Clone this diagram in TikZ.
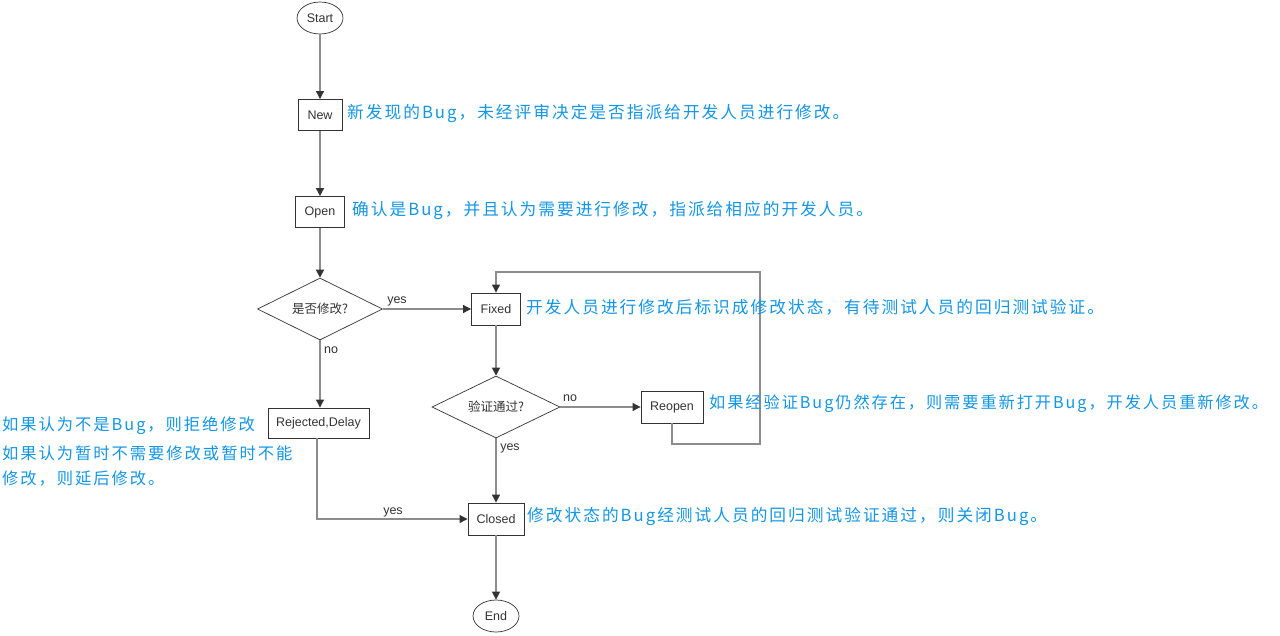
\documentclass[tikz,border=0pt]{standalone}
\usepackage{fontspec}
\setmainfont{Liberation Sans}
\newfontfamily\cjkfont{Noto Sans CJK SC}
\newfontfamily\annfont[LetterSpace=12]{Noto Sans CJK SC}
\usetikzlibrary{shapes.geometric,arrows.meta}
\definecolor{boxc}{HTML}{333333}
\definecolor{linec}{HTML}{8C8C8C}
\definecolor{arrc}{HTML}{333333}
\definecolor{annc}{RGB}{20,150,230}
\tikzset{
  box/.style={draw=boxc, line width=0.9pt, fill=white, inner sep=0pt, minimum height=31pt, text=boxc, font=\fontsize{12.5}{14}\selectfont},
  term/.style={ellipse, draw=boxc, line width=0.7pt, fill=white, inner sep=0pt, minimum width=46pt, minimum height=32pt, text=boxc, font=\fontsize{12.5}{14}\selectfont},
  dec/.style={diamond, aspect=2, draw=boxc, line width=0.7pt, fill=white, inner sep=0pt, minimum width=125pt, minimum height=62pt, text=boxc, font=\cjkfont\fontsize{12.5}{14}\selectfont},
  conn/.style={draw=linec, line width=1.1pt, -{Triangle[length=8pt,width=8pt,color=arrc]}},
  lbl/.style={text=boxc, inner sep=0pt, font=\fontsize{12.5}{14}\selectfont},
  ann/.style={text=annc, anchor=west, inner sep=0pt, font=\annfont\fontsize{16.7}{20}\selectfont},
}
\begin{document}
\begin{tikzpicture}[x=1pt,y=-1pt]
\useasboundingbox (0,0) rectangle (1280,635);
\fill[white] (0,0) rectangle (1280,635);

% nodes
\node[term] (start) at (320,18) {Start};
\node[box, minimum width=44pt] (new) at (320,115) {New};
\node[box, minimum width=49pt] (open) at (320,212) {Open};
\node[dec] (d1) at (320,309) {是否修改?};
\node[box, minimum width=49pt, minimum height=32pt] (fixed) at (496,309) {Fixed};
\node[dec, minimum width=128pt] (d2) at (496,407) {验证通过?};
\node[box, minimum width=62pt, minimum height=32pt] (reopen) at (672,407) {Reopen};
\node[box, minimum width=101pt, minimum height=30pt] (rej) at (318.5,423) {Rejected,Delay};
\node[box, minimum width=56pt, minimum height=32pt] (closed) at (496,519) {Closed};
\node[term] (endn) at (496,616) {End};

% corner coordinates
\coordinate (r1) at (672,444);
\coordinate (r2) at (760,444);
\coordinate (r3) at (760,272);
\coordinate (r4) at (496,272);
\coordinate (j0) at (317,438);
\coordinate (j1) at (317,519);

% connectors
\draw[conn] (start) -- (new);
\draw[conn] (new) -- (open);
\draw[conn] (open) -- (d1);
\draw[conn] (d1.east) -- (fixed.west);
\draw[conn] (d1.south) -- (d1.south |- rej.north);
\draw[conn] (fixed) -- (d2);
\draw[conn] (d2.east) -- (reopen.west);
\draw[conn] (d2.south) -- (closed.north);
\draw[conn] (j0) -- (j1) -- (closed.west);
\draw[conn] (reopen.south) -- (r1) -- (r2) -- (r3) -- (r4) -- (fixed.north);
\draw[conn] (closed) -- (endn);

% connector labels
\node[lbl] (l1) at (397,301) {yes};
\node[lbl] (l2) at (331,350) {no};
\node[lbl] (l3) at (570,398) {no};
\node[lbl] (l4) at (510,448) {yes};
\node[lbl] (l5) at (393,512) {yes};

% annotations
\node[ann] (a1) at (347,114) {新发现的Bug，未经评审决定是否指派给开发人员进行修改。};
\node[ann] (a2) at (352,211) {确认是Bug，并且认为需要进行修改，指派给相应的开发人员。};
\node[ann] (a3) at (526,307) {开发人员进行修改后标识成修改状态，有待测试人员的回归测试验证。};
\node[ann, font=\annfont\fontsize{16.2}{20}\selectfont] (a4) at (709,404) {如果经验证Bug仍然存在，则需要重新打开Bug，开发人员重新修改。};
\node[ann] (a5) at (527,517) {修改状态的Bug经测试人员的回归测试验证通过，则关闭Bug。};
\node[ann, font=\annfont\fontsize{16.3}{20}\selectfont] (a6) at (2,426) {如果认为不是Bug，则拒绝修改};
\node[ann, font=\annfont\fontsize{16.3}{20}\selectfont] (a7) at (2,453) {如果认为暂时不需要修改或暂时不能};
\node[ann, font=\annfont\fontsize{16.3}{20}\selectfont] (a8) at (2,479) {修改，则延后修改。};
\end{tikzpicture}
\end{document}
